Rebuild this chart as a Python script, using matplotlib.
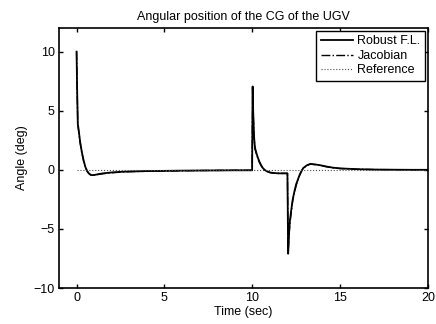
import matplotlib
matplotlib.use("Agg")
import matplotlib.pyplot as plt

plt.rcParams['font.family'] = ['Liberation Sans', 'DejaVu Sans']
plt.rcParams['font.size'] = 9

# Robust F.L. response
time_robust = [0, 0.03, 0.07, 0.1, 0.15, 0.2, 0.3, 0.4, 0.5, 0.6, 0.7, 0.8, 0.9, 1.0, 1.2, 1.5,
               2.0, 2.5, 3, 4, 5, 6, 7, 8, 9, 9.99,
               10.02, 10.05, 10.1, 10.15, 10.2, 10.3, 10.4, 10.5, 10.6, 10.7, 10.8, 11.0, 11.2,
               11.5, 11.8, 12.0,
               12.04, 12.1, 12.14, 12.2, 12.3, 12.4, 12.5, 12.6, 12.7, 12.8, 12.9, 13.1, 13.3,
               13.6, 13.9, 14.2, 14.6, 15, 16, 17, 18, 19, 20]
angle_robust = [10, 7, 3.9, 3.6, 3.0, 2.4, 1.5, 0.8, 0.25, -0.1, -0.3, -0.42, -0.45, -0.44, -0.38, -0.3,
                -0.22, -0.17, -0.14, -0.11, -0.09, -0.07, -0.06, -0.05, -0.04, -0.04,
                7.05, 5.0, 2.8, 1.9, 1.6, 1.1, 0.7, 0.4, 0.15, 0.0, -0.1, -0.22, -0.27,
                -0.3, -0.3, -0.3,
                -7.1, -5.2, -4.3, -3.6, -2.5, -1.8, -1.2, -0.8, -0.4, -0.1, 0.15, 0.38, 0.5,
                0.45, 0.38, 0.28, 0.18, 0.12, 0.05, 0.02, 0.01, 0.0, 0.0]

# Jacobian response (almost identical)
time_jacobian = time_robust
angle_jacobian = [10, 7, 3.8, 3.5, 2.9, 2.3, 1.45, 0.75, 0.2, -0.12, -0.32, -0.43, -0.46, -0.45, -0.4, -0.33,
                  -0.25, -0.2, -0.16, -0.12, -0.1, -0.08, -0.06, -0.05, -0.04, -0.04,
                  6.9, 4.9, 2.7, 1.8, 1.5, 1.05, 0.65, 0.35, 0.12, -0.02, -0.12, -0.23, -0.28,
                  -0.3, -0.3, -0.3,
                  -7.0, -5.3, -4.6, -3.8, -2.6, -1.9, -1.3, -0.85, -0.45, -0.12, 0.12, 0.35, 0.48,
                  0.44, 0.37, 0.27, 0.17, 0.11, 0.05, 0.02, 0.01, 0.0, 0.0]

time_reference = [0, 20]
angle_reference = [0, 0]

fig = plt.figure(figsize=(4.36, 3.24), dpi=100)
ax = fig.add_axes([0.1353, 0.1111, 0.8464, 0.8025])

ax.plot(time_robust, angle_robust, color='k', lw=1.3, ls='-', label='Robust F.L.')
ax.plot(time_jacobian, angle_jacobian, color='k', lw=1.0, ls='-.', label='Jacobian')
ax.plot(time_reference, angle_reference, color='0.3', lw=0.8, ls=':', label='Reference')

ax.set_xlim(-1, 20)
ax.set_ylim(-10, 12)
ax.set_xticks([0, 5, 10, 15, 20])
ax.set_yticks([-10, -5, 0, 5, 10])
ax.tick_params(direction='in', top=True, right=True, length=3, width=1, pad=3)
for s in ax.spines.values():
    s.set_linewidth(1.2)

ax.set_title('Angular position of the CG of the UGV', fontsize=9, pad=6)
ax.set_xlabel('Time (sec)', labelpad=1)
ax.set_ylabel('Angle (deg)', labelpad=4)

leg = ax.legend(loc='upper right', fancybox=False, edgecolor='k', framealpha=1,
                borderaxespad=0.25, handlelength=2.6, handletextpad=0.35,
                borderpad=0.35, labelspacing=0.2)
leg.get_frame().set_linewidth(1.0)

fig.savefig('out.png', dpi=100)
